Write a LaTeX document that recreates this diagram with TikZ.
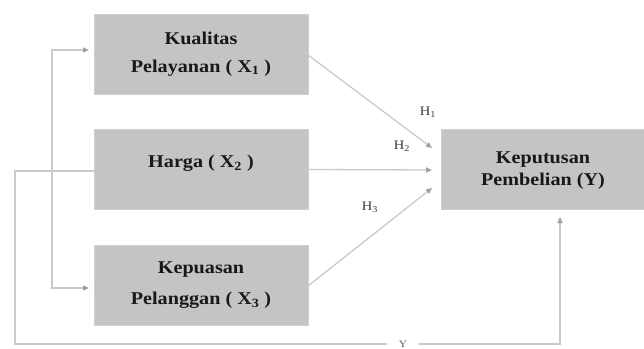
\documentclass[tikz,border=0pt]{standalone}
\usepackage{fontspec}
\setmainfont[FakeStretch=1.12]{Liberation Serif}
\usetikzlibrary{arrows.meta,calc}
\definecolor{boxfill}{HTML}{C4C4C4}
\definecolor{linec}{HTML}{CACACA}
\definecolor{tipc}{HTML}{A0A0A0}
\definecolor{txt}{HTML}{181818}
\begin{document}
\begin{tikzpicture}[x=1pt,y=-1pt,
  varbox/.style={fill=boxfill,draw=boxfill!80!white,line width=1pt,minimum width=214pt,minimum height=80pt,
     align=center,inner sep=0pt,text=txt,font=\fontsize{18}{28}\selectfont\bfseries},
  conn/.style={draw=linec,line width=1.3pt},
  arr/.style={conn,-{Triangle[length=6pt,width=5pt,fill=tipc,color=tipc]}},
  hlab/.style={text=txt!85,font=\fontsize{13}{14}\selectfont,inner sep=0pt}]
\useasboundingbox (0,0) rectangle (644,348);
\node[varbox] (x1) at (201,54) {Kualitas\\Pelayanan ( X\textsubscript{1} )};
\node[varbox] (x2) at (201,169.5) {\raisebox{16pt}{Harga ( X\textsubscript{2} )}};
\node[varbox,font=\fontsize{18}{31}\selectfont\bfseries] (x3) at (201,285.5) {Kepuasan\\Pelanggan ( X\textsubscript{3} )};
\node[varbox,minimum width=204pt,font=\fontsize{18}{25}\selectfont\bfseries] (y) at (543,169.5) {\raisebox{4pt}{\begin{tabular}{@{}c@{}}Keputusan\\[-3pt]Pembelian (Y)\end{tabular}}};
% hypothesis arrows
\coordinate (s1) at (308,55);
\coordinate (s3) at (308,286);
\coordinate (e1) at (432,148);
\coordinate (e2) at (432,170);
\coordinate (e3) at (432,188);
\draw[arr] (s1) -- (e1);
\draw[arr] (x2.east) -- (e2);
\draw[arr] (s3) -- (e3);
\node[hlab] (h1) at (428,112) {H\textsubscript{1}};
\node[hlab] (h2) at (402,146) {H\textsubscript{2}};
\node[hlab] (h3) at (370,207) {H\textsubscript{3}};
% bracket
\coordinate (jn) at (52,171);
\coordinate (a1) at (94,50);
\coordinate (a3) at (94,288);
\draw[arr,shorten >=5pt] (jn) |- (a1);
\draw[arr,shorten >=5pt] (jn) |- (a3);
% outer path
\coordinate (o1) at (15,171);
\coordinate (o2) at (15,344);
\coordinate (yin) at (560,209);
\draw[arr,shorten >=8pt] (x2.west |- o1) -- (o1) -- (o2) -| (yin);
\node[fill=white,text=txt!70,font=\fontsize{10}{10}\selectfont,inner xsep=12pt,inner ysep=1pt] (ylab) at (403,344) {Y};
\end{tikzpicture}
\end{document}
